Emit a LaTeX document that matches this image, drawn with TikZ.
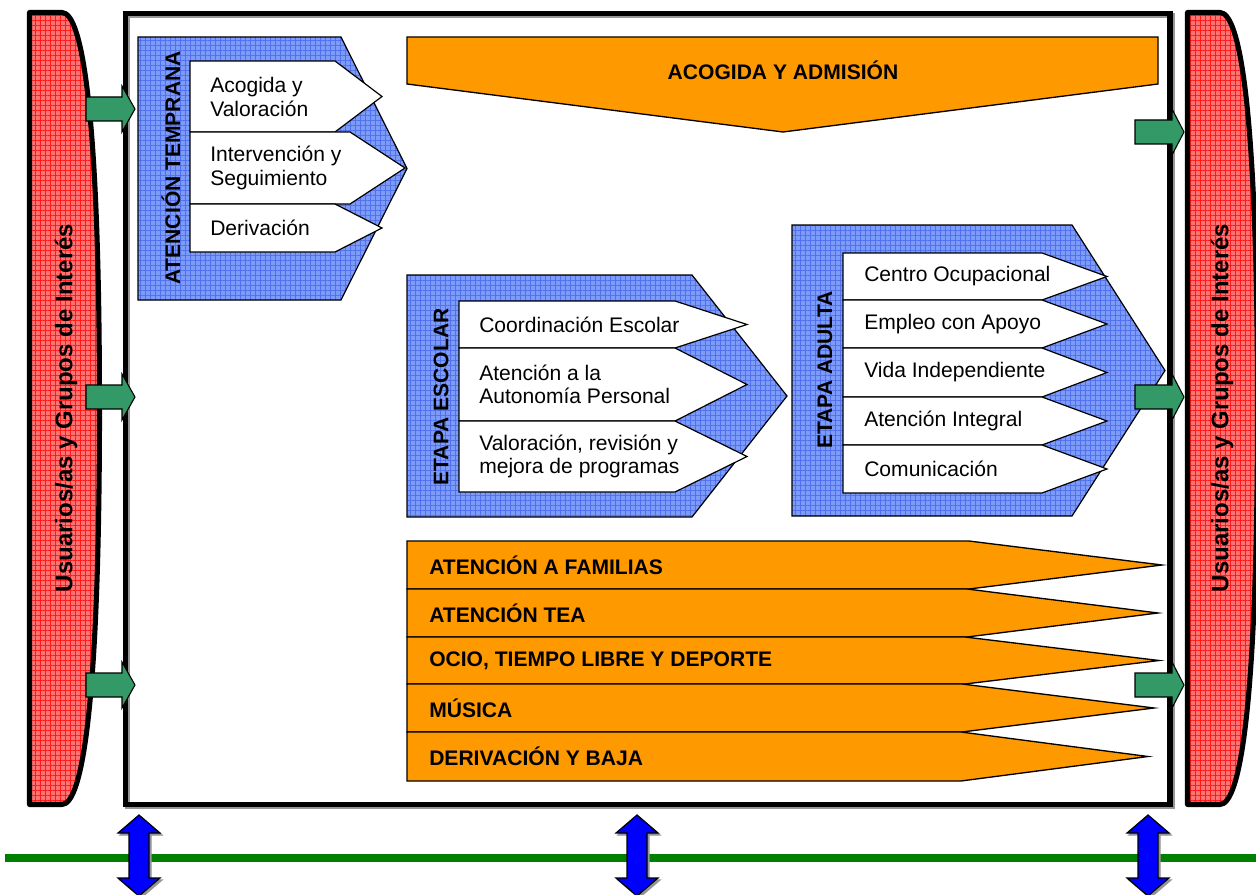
\documentclass[tikz,border=0pt]{standalone}
\usepackage{fontspec}
\setmainfont{Liberation Sans}
\usetikzlibrary{patterns.meta}
\definecolor{blueA}{RGB}{125,155,248}
\definecolor{blueB}{RGB}{80,112,238}
\definecolor{redA}{RGB}{255,115,115}
\definecolor{redB}{RGB}{255,25,25}
\definecolor{orangeF}{RGB}{255,153,0}
\definecolor{greenF}{RGB}{51,153,102}
\definecolor{greenL}{RGB}{0,128,0}
\definecolor{shadowG}{RGB}{150,150,150}
\tikzset{
  bluebox/.style={draw=black, line width=0.9pt, preaction={fill=blueA},
    pattern={Hatch[angle=0,distance=3.75pt,line width=0.35pt]}, pattern color=blueB},
  redbar/.style={draw=black, line width=3.8pt, line join=round, preaction={fill=redA},
    pattern={Hatch[angle=0,distance=3.75pt,line width=0.35pt]}, pattern color=redB},
  whitechev/.style={draw=black, fill=white, line width=0.9pt},
  orangechev/.style={draw=black, fill=orangeF, line width=1pt},
  garr/.style={draw=black, fill=greenF, line width=0.8pt},
  darr/.style={draw=black, fill=blue, line width=0.9pt},
  dshadow/.style={fill=shadowG, draw=shadowG, line width=0.9pt},
  txt/.style={font=\fontsize{15.8}{17.6}\selectfont, align=left, anchor=west, inner sep=0pt},
  btxt/.style={font=\bfseries\fontsize{15.8}{17.8}\selectfont, inner sep=0pt},
  bigtxt/.style={font=\bfseries\fontsize{18}{20}\selectfont, inner sep=0pt, rotate=90},
}
% style, xleft, ytop, xflat, xtip, ybottom
\newcommand\chevshape[6]{%
  \draw[#1] (#2,#3) -- (#4,#3) -- (#5,{(#3+#6)/2}) -- (#4,#6) -- (#2,#6) -- cycle;}
% green arrow: shaft left x, head base x, tip x, centre y
\newcommand\greenarrow[4]{%
  \draw[garr] (#1,{#4-12}) -- (#2,{#4-12}) -- (#2,{#4-23}) -- (#3,#4) -- (#2,{#4+23})
    -- (#2,{#4+12}) -- (#1,{#4+12}) -- cycle;}
% blue double arrow at centre x
\newcommand\dblarrow[1]{%
  \begin{scope}[shift={(2,2)}]
  \fill[dshadow] (#1,815) -- ({#1+21},833) -- ({#1+10},833) -- ({#1+10},878) -- ({#1+21},878)
    -- (#1,896) -- ({#1-21},878) -- ({#1-10},878) -- ({#1-10},833) -- ({#1-21},833) -- cycle;
  \end{scope}
  \draw[darr] (#1,815) -- ({#1+21},833) -- ({#1+10},833) -- ({#1+10},878) -- ({#1+21},878)
    -- (#1,896) -- ({#1-21},878) -- ({#1-10},878) -- ({#1-10},833) -- ({#1-21},833) -- cycle;}
\begin{document}
\begin{tikzpicture}[x=0.75pt,y=-0.75pt]
\useasboundingbox (0,0) rectangle (1256,895);
\fill[white] (0,0) rectangle (1256,895);

% ground line
\fill[greenL] (5,853.5) rectangle (1260,861.5);

% side bars
\draw[redbar] (29.5,12.5) -- (62,12.5) .. controls (82,12.5) and (99.5,110) .. (99.5,408.5)
  .. controls (99.5,707) and (82,804.5) .. (62,804.5) -- (29.5,804.5) -- cycle;
\draw[redbar] (1187.5,12.5) -- (1220,12.5) .. controls (1240,12.5) and (1257.5,110) .. (1257.5,408.5)
  .. controls (1257.5,707) and (1240,804.5) .. (1220,804.5) -- (1187.5,804.5) -- cycle;
\node[bigtxt] (usl) at (66,408) {Usuarios/as y Grupos de Interés};
\node[bigtxt] (usr) at (1222,408) {Usuarios/as y Grupos de Interés};

% main box
\draw[shadowG, line width=3.8pt] (127.5,15.5) rectangle (1172.5,806.5);
\draw[black, line width=3.8pt] (125.5,13.5) rectangle (1170,804.5);

% acogida y admision
\draw[orangechev] (407,37) -- (1158,37) -- (1158,84) -- (783,132) -- (407,84) -- cycle;
\node[btxt] (acog) at (783,70) {ACOGIDA Y ADMISIÓN};

% atencion temprana
\chevshape{bluebox}{138}{37}{341}{407}{300}
\node[btxt, rotate=90] (atT) at (171,168) {ATENCIÓN TEMPRANA};
\chevshape{whitechev}{190}{61}{335}{382}{132}
\chevshape{whitechev}{190}{132}{350}{405}{204}
\chevshape{whitechev}{190}{204}{335}{382}{252}
\node[txt] (t1) at (210,97) {Acogida y\\Valoración};
\node[txt] (t2) at (210,168) {Intervención y\\Seguimiento};
\node[txt] (t3) at (210,228) {Derivación};

% etapa escolar
\chevshape{bluebox}{407}{275}{692}{787}{517}
\node[btxt, rotate=90] (esc) at (441,397) {ETAPA ESCOLAR};
\chevshape{whitechev}{459}{301}{675}{747}{348}
\chevshape{whitechev}{459}{348}{675}{747}{421}
\chevshape{whitechev}{459}{421}{675}{747}{492}
\node[txt] (e1) at (479,324.5) {Coordinación Escolar};
\node[txt] (e2) at (479,384.5) {Atención a la\\Autonomía Personal};
\node[txt] (e3) at (479,456.5) {Valoración, revisión y\\mejora de programas};

% etapa adulta
\chevshape{bluebox}{792}{225}{1072}{1165}{516}
\node[btxt, rotate=90] (adu) at (825,370) {ETAPA ADULTA};
\chevshape{whitechev}{843}{253}{1042}{1107}{300}
\chevshape{whitechev}{843}{300}{1042}{1107}{348}
\chevshape{whitechev}{843}{348}{1042}{1107}{397}
\chevshape{whitechev}{843}{397}{1042}{1107}{445}
\chevshape{whitechev}{843}{445}{1042}{1107}{493}
\node[txt] (a1) at (864,276.5) {Centro Ocupacional};
\node[txt] (a2) at (864,324) {Empleo con Apoyo};
\node[txt] (a3) at (864,372.5) {Vida Independiente};
\node[txt] (a4) at (864,421) {Atención Integral};
\node[txt] (a5) at (864,469) {Comunicación};

% orange bars
\chevshape{orangechev}{407}{541}{969}{1162}{589}
\chevshape{orangechev}{407}{589}{967}{1158}{637}
\chevshape{orangechev}{407}{637}{965}{1159}{684}
\chevshape{orangechev}{407}{684}{962}{1154}{732}
\chevshape{orangechev}{407}{732}{961}{1148}{781}
\node[btxt, anchor=west] (o1) at (429,565) {ATENCIÓN A FAMILIAS};
\node[btxt, anchor=west] (o2) at (429,613) {ATENCIÓN TEA};
\node[btxt, anchor=west] (o3) at (429,660.5) {OCIO, TIEMPO LIBRE Y DEPORTE};
\node[btxt, anchor=west] (o4) at (429,708) {MÚSICA};
\node[btxt, anchor=west] (o5) at (429,756.5) {DERIVACIÓN Y BAJA};

% green arrows
\greenarrow{86}{122}{135}{109}
\greenarrow{86}{122}{135}{397}
\greenarrow{86}{122}{135}{685}
\greenarrow{1135}{1172}{1184}{132}
\greenarrow{1135}{1172}{1184}{397}
\greenarrow{1135}{1172}{1184}{685}

% double arrows
\dblarrow{139}
\dblarrow{637}
\dblarrow{1148}
\end{tikzpicture}
\end{document}
